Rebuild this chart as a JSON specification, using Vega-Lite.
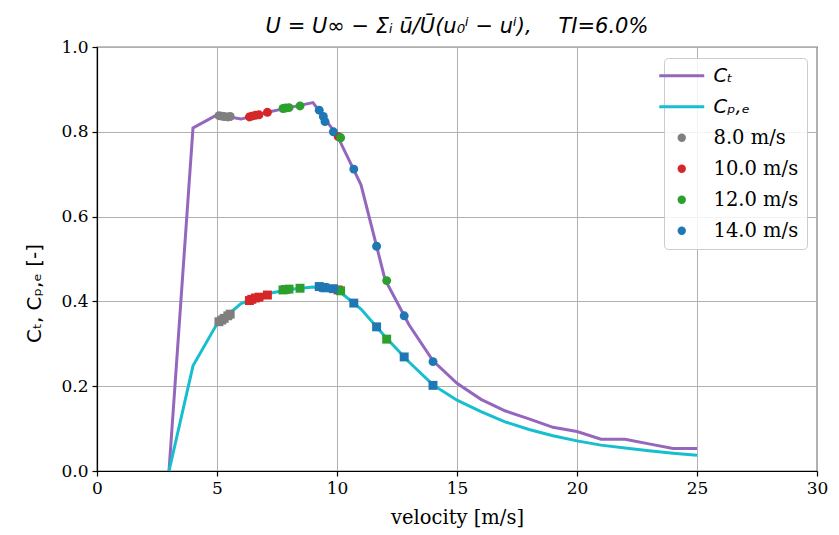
{
  "$schema": "https://vega.github.io/schema/vega-lite/v6.json",
  "width": 720,
  "height": 424,
  "autosize": {"type": "none"},
  "padding": {"left": 97, "top": 47, "right": 22, "bottom": 64},
  "background": "white",
  "title": {
    "text": "U = U∞ − Σᵢ ū/Ū(u₀ⁱ − uⁱ),\u00a0\u00a0\u00a0\u00a0TI=6.0%",
    "font": "DejaVu Sans",
    "fontSize": 21,
    "fontStyle": "italic",
    "fontWeight": "normal",
    "color": "black",
    "anchor": "middle",
    "offset": 1
  },
  "datasets": {
    "curves": [
      {"v": 3, "key": "Cₜ", "val": 0.0},
      {"v": 4, "key": "Cₜ", "val": 0.809},
      {"v": 5, "key": "Cₜ", "val": 0.84},
      {"v": 6, "key": "Cₜ", "val": 0.83},
      {"v": 7, "key": "Cₜ", "val": 0.845},
      {"v": 8, "key": "Cₜ", "val": 0.857},
      {"v": 9, "key": "Cₜ", "val": 0.869},
      {"v": 10, "key": "Cₜ", "val": 0.792},
      {"v": 11, "key": "Cₜ", "val": 0.675},
      {"v": 12, "key": "Cₜ", "val": 0.452},
      {"v": 13, "key": "Cₜ", "val": 0.345},
      {"v": 14, "key": "Cₜ", "val": 0.26},
      {"v": 15, "key": "Cₜ", "val": 0.207},
      {"v": 16, "key": "Cₜ", "val": 0.169},
      {"v": 17, "key": "Cₜ", "val": 0.142},
      {"v": 18, "key": "Cₜ", "val": 0.123},
      {"v": 19, "key": "Cₜ", "val": 0.103},
      {"v": 20, "key": "Cₜ", "val": 0.093},
      {"v": 21, "key": "Cₜ", "val": 0.075},
      {"v": 22, "key": "Cₜ", "val": 0.075},
      {"v": 23, "key": "Cₜ", "val": 0.064},
      {"v": 24, "key": "Cₜ", "val": 0.053},
      {"v": 25, "key": "Cₜ", "val": 0.053},
      {"v": 3, "key": "Cₚ,ₑ", "val": 0.0},
      {"v": 4, "key": "Cₚ,ₑ", "val": 0.248},
      {"v": 5, "key": "Cₚ,ₑ", "val": 0.347},
      {"v": 6, "key": "Cₚ,ₑ", "val": 0.395},
      {"v": 7, "key": "Cₚ,ₑ", "val": 0.417},
      {"v": 8, "key": "Cₚ,ₑ", "val": 0.428},
      {"v": 9, "key": "Cₚ,ₑ", "val": 0.434},
      {"v": 10, "key": "Cₚ,ₑ", "val": 0.428},
      {"v": 11, "key": "Cₚ,ₑ", "val": 0.382},
      {"v": 12, "key": "Cₚ,ₑ", "val": 0.317},
      {"v": 13, "key": "Cₚ,ₑ", "val": 0.257},
      {"v": 14, "key": "Cₚ,ₑ", "val": 0.203},
      {"v": 15, "key": "Cₚ,ₑ", "val": 0.167},
      {"v": 16, "key": "Cₚ,ₑ", "val": 0.14},
      {"v": 17, "key": "Cₚ,ₑ", "val": 0.116},
      {"v": 18, "key": "Cₚ,ₑ", "val": 0.098},
      {"v": 19, "key": "Cₚ,ₑ", "val": 0.083},
      {"v": 20, "key": "Cₚ,ₑ", "val": 0.071},
      {"v": 21, "key": "Cₚ,ₑ", "val": 0.061},
      {"v": 22, "key": "Cₚ,ₑ", "val": 0.054},
      {"v": 23, "key": "Cₚ,ₑ", "val": 0.048},
      {"v": 24, "key": "Cₚ,ₑ", "val": 0.042},
      {"v": 25, "key": "Cₚ,ₑ", "val": 0.037}
    ],
    "pts": [
      {"v": 5.08, "key": "8.0 m/s", "ct": 0.838, "cp": 0.352},
      {"v": 5.2, "key": "8.0 m/s", "ct": 0.837, "cp": 0.356},
      {"v": 5.3, "key": "8.0 m/s", "ct": 0.836, "cp": 0.36},
      {"v": 5.45, "key": "8.0 m/s", "ct": 0.835, "cp": 0.366},
      {"v": 5.55, "key": "8.0 m/s", "ct": 0.836, "cp": 0.37},
      {"v": 6.35, "key": "10.0 m/s", "ct": 0.835, "cp": 0.402},
      {"v": 6.45, "key": "10.0 m/s", "ct": 0.837, "cp": 0.405},
      {"v": 6.6, "key": "10.0 m/s", "ct": 0.839, "cp": 0.408},
      {"v": 6.75, "key": "10.0 m/s", "ct": 0.84, "cp": 0.41},
      {"v": 7.1, "key": "10.0 m/s", "ct": 0.846, "cp": 0.415},
      {"v": 10.05, "key": "10.0 m/s", "ct": 0.789, "cp": 0.427},
      {"v": 7.75, "key": "12.0 m/s", "ct": 0.855, "cp": 0.427},
      {"v": 7.85, "key": "12.0 m/s", "ct": 0.856, "cp": 0.428},
      {"v": 8.0, "key": "12.0 m/s", "ct": 0.857, "cp": 0.429},
      {"v": 8.46, "key": "12.0 m/s", "ct": 0.861, "cp": 0.431},
      {"v": 10.15, "key": "12.0 m/s", "ct": 0.786, "cp": 0.425},
      {"v": 12.07, "key": "12.0 m/s", "ct": 0.449, "cp": 0.311},
      {"v": 9.26, "key": "14.0 m/s", "ct": 0.851, "cp": 0.435},
      {"v": 9.43, "key": "14.0 m/s", "ct": 0.836, "cp": 0.433},
      {"v": 9.5, "key": "14.0 m/s", "ct": 0.824, "cp": 0.432},
      {"v": 9.85, "key": "14.0 m/s", "ct": 0.8, "cp": 0.43},
      {"v": 10.7, "key": "14.0 m/s", "ct": 0.712, "cp": 0.396},
      {"v": 11.65, "key": "14.0 m/s", "ct": 0.53, "cp": 0.34},
      {"v": 12.8, "key": "14.0 m/s", "ct": 0.366, "cp": 0.269},
      {"v": 14.0, "key": "14.0 m/s", "ct": 0.258, "cp": 0.202}
    ]
  },
  "encoding": {
    "x": {
      "field": "v", "type": "quantitative",
      "scale": {"domain": [0, 30], "nice": false, "zero": false},
      "axis": {"title": "velocity [m/s]", "values": [0, 5, 10, 15, 20, 25, 30], "format": "d"}
    },
    "color": {
      "field": "key", "type": "nominal",
      "scale": {
        "domain": ["Cₜ", "Cₚ,ₑ", "8.0 m/s", "10.0 m/s", "12.0 m/s", "14.0 m/s"],
        "range": ["#9467bd", "#17becf", "#7f7f7f", "#d62728", "#2ca02c", "#1f77b4"]
      },
      "legend": {
        "title": null,
        "orient": "none",
        "legendX": 567,
        "legendY": 11,
        "padding": 8,
        "fillColor": "rgba(255,255,255,0.85)",
        "strokeColor": "#cccccc",
        "cornerRadius": 4,
        "labelFont": "DejaVu Serif",
        "labelFontSize": 19.5,
        "labelColor": "black",
        "labelOffset": 22,
        "symbolSize": 2025,
        "rowPadding": 10,
        "encode": {
          "symbols": {
            "update": {
              "shape": {"signal": "datum.index < 2 ? 'stroke' : 'circle'"},
              "size": {"signal": "datum.index < 2 ? 2025 : 70"},
              "strokeWidth": {"signal": "datum.index < 2 ? 3 : 0"},
              "stroke": {"signal": "scale('color', datum.value)"},
              "fill": {"signal": "scale('color', datum.value)"},
              "opacity": {"value": 1}
            }
          },
          "labels": {
            "update": {
              "font": {"signal": "datum.index < 2 ? 'DejaVu Sans' : 'DejaVu Serif'"},
              "fontStyle": {"signal": "datum.index < 2 ? 'italic' : 'normal'"}
            }
          }
        }
      }
    }
  },
  "layer": [
    {
      "data": {"name": "curves"},
      "mark": {"type": "line", "strokeWidth": 3},
      "encoding": {
        "y": {
          "field": "val", "type": "quantitative",
          "scale": {"domain": [0, 1], "nice": false},
          "axis": {"title": "Cₜ,\u00a0Cₚ,ₑ\u00a0[-]", "values": [0, 0.2, 0.4, 0.6, 0.8, 1.0], "format": ".1f"}
        }
      }
    },
    {
      "data": {"name": "pts"},
      "mark": {"type": "circle", "size": 80, "opacity": 1},
      "encoding": {"y": {"field": "ct", "type": "quantitative"}}
    },
    {
      "data": {"name": "pts"},
      "mark": {"type": "square", "size": 80, "opacity": 1},
      "encoding": {"y": {"field": "cp", "type": "quantitative"}}
    }
  ],
  "config": {
    "view": {"stroke": "black", "strokeWidth": 1.2},
    "axis": {
      "domainColor": "black",
      "domainWidth": 1.2,
      "tickColor": "black",
      "tickSize": 5,
      "tickWidth": 1.2,
      "gridColor": "#b0b0b0",
      "gridWidth": 1,
      "labelFont": "DejaVu Serif",
      "labelFontSize": 17,
      "labelColor": "black",
      "labelPadding": 4,
      "titleFont": "DejaVu Serif",
      "titleFontSize": 19.5,
      "titleFontWeight": "normal",
      "titleColor": "black"
    },
    "axisX": {"titlePadding": 12, "labelFlush": false},
    "axisY": {"titleFont": "DejaVu Sans", "titleFontSize": 20, "titlePadding": 16, "titleY": 246}
  }
}
